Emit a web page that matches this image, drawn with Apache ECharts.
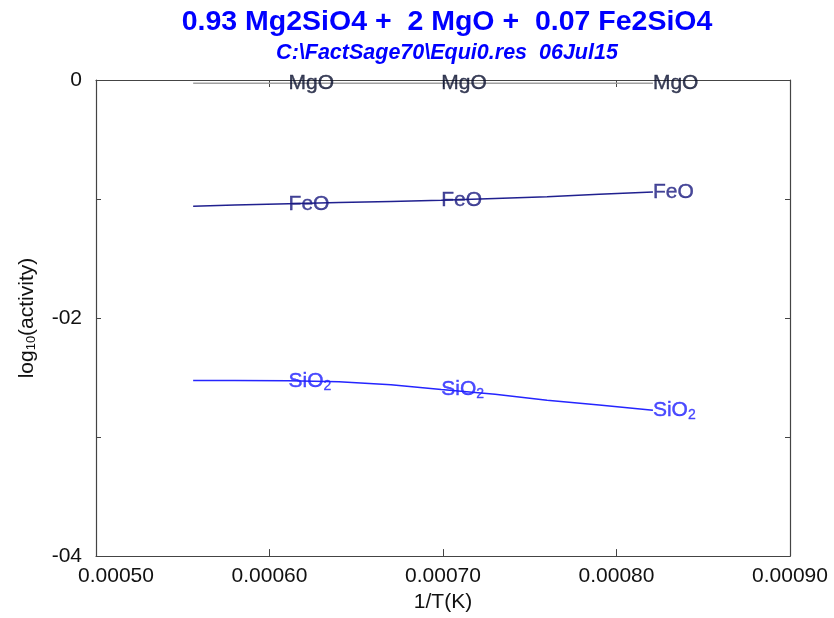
<!DOCTYPE html>
<html>
<head>
<meta charset="utf-8">
<script src="https://cdn.jsdelivr.net/npm/echarts@6/dist/echarts.min.js"></script>
<style>html,body{margin:0;padding:0;background:#fff}#c{width:834px;height:618px}</style>
</head>
<body>
<div id="c"></div>
<script>
// 1/T values (K^-1)
const invT = [0.000556, 0.000580, 0.000611, 0.000640, 0.000670, 0.000699, 0.000730, 0.000760, 0.000790, 0.000821];
const mgo  = [-0.027, -0.027, -0.027, -0.027, -0.027, -0.027, -0.027, -0.027, -0.027, -0.027];
const feo  = [-1.06, -1.05, -1.04, -1.03, -1.02, -1.01, -0.995, -0.98, -0.96, -0.94];
const sio2 = [-2.525, -2.525, -2.527, -2.535, -2.56, -2.60, -2.64, -2.69, -2.73, -2.775];
const labelIdx = [2, 5, 9];
const xTicks = [0.0005, 0.0006, 0.0007, 0.0008, 0.0009];
const yTicks = [0, -1, -2, -3, -4];
const yTickLabels = ['0', '', '-02', '', '-04'];
const titleText = '0.93 Mg2SiO4 +  2 MgO +  0.07 Fe2SiO4';
const subText = 'C:\\FactSage70\\Equi0.res  06Jul15';

const FONT = "'Liberation Sans', Arial, sans-serif";
const pairs = (ys) => invT.map((x, i) => [x, ys[i]]);
const lblPts = (ys) => labelIdx.map(i => [invT[i], ys[i]]);

function labelSeries(ys, text, color) {
  return {
    type: 'scatter', data: lblPts(ys), symbolSize: 0, silent: true, z: 5,
    label: {
      show: true, position: 'right', distance: 0,
      formatter: text,
      color: color, fontFamily: FONT, fontSize: 21,
      textBorderColor: color, textBorderWidth: 0.4,
      rich: {
        n: {color: color, fontFamily: FONT, fontSize: 21, textBorderColor: color, textBorderWidth: 0.4},
        s: {color: color, fontFamily: FONT, fontSize: 14, verticalAlign: 'bottom', padding: [10, 0, 0, 0],
            textBorderColor: color, textBorderWidth: 0.3}
      }
    }
  };
}

const chart = echarts.init(document.getElementById('c'), null, {renderer: 'canvas'});
const axisCol = '#444';
chart.setOption({
  animation: false,
  backgroundColor: '#fff',
  title: [
    {text: titleText, left: 442, top: 3, textAlign: 'center',
     textStyle: {color: '#0000ff', fontSize: 28.5, fontWeight: 'bold', fontFamily: FONT}},
    {text: subText, left: 442, top: 37, textAlign: 'center',
     textStyle: {color: '#0000ff', fontSize: 21.5, fontWeight: 'bold', fontStyle: 'italic', fontFamily: FONT}}
  ],
  grid: {left: 96, right: 44, top: 80, bottom: 58},
  xAxis: [
    {type: 'value', position: 'bottom', min: xTicks[0], max: xTicks[xTicks.length - 1], interval: 0.0001,
     name: '1/T(K)', nameLocation: 'middle', nameGap: 35,
     nameTextStyle: {color: '#111', fontSize: 21, fontFamily: FONT},
     axisLine: {onZero: false, lineStyle: {color: axisCol, width: 1.2}},
     axisTick: {inside: true, length: 7, lineStyle: {color: axisCol}},
     splitLine: {show: false},
     axisLabel: {margin: 10, color: '#111', fontSize: 21, fontFamily: FONT,
       formatter: (v) => {
         const s = v.toFixed(5);
         return Math.abs(v - xTicks[0]) < 1e-9 ? '{f|' + s + '}' : s;
       },
       rich: {f: {fontSize: 21, fontFamily: FONT, color: '#111', padding: [0, 0, 0, 40]}}
     }},
    {type: 'value', position: 'top', min: xTicks[0], max: xTicks[xTicks.length - 1], interval: 0.0001,
     axisLine: {onZero: false, lineStyle: {color: axisCol, width: 1.2}},
     axisTick: {inside: true, length: 7, lineStyle: {color: axisCol}},
     axisLabel: {show: false}, splitLine: {show: false}}
  ],
  yAxis: [
    {type: 'value', position: 'left', min: yTicks[yTicks.length - 1], max: yTicks[0], interval: 1,
     name: '{n|log}{s|10}{n|(activity)}', nameLocation: 'middle', nameGap: 58, nameRotate: 90,
     nameTextStyle: {color: '#111', fontSize: 21, fontFamily: FONT,
       rich: {n: {fontSize: 21, fontFamily: FONT, color: '#111'},
              s: {fontSize: 13, fontFamily: FONT, color: '#111', verticalAlign: 'bottom', padding: [8, 0, 0, 0]}}},
     axisLine: {show: true, onZero: false, lineStyle: {color: axisCol, width: 1.2}},
     axisTick: {show: true, inside: true, length: 5, lineStyle: {color: axisCol}},
     splitLine: {show: false},
     axisLabel: {margin: 14, color: '#111', fontSize: 21, fontFamily: FONT,
       formatter: (v) => { const i = yTicks.indexOf(Math.round(v)); return i >= 0 ? yTickLabels[i] : ''; }}},
    {type: 'value', position: 'right', min: yTicks[yTicks.length - 1], max: yTicks[0], interval: 1,
     axisLine: {show: true, onZero: false, lineStyle: {color: axisCol, width: 1.2}},
     axisTick: {show: true, inside: true, length: 5, lineStyle: {color: axisCol}},
     axisLabel: {show: false}, splitLine: {show: false}}
  ],
  series: [
    {type: 'line', data: pairs(mgo), symbol: 'none', lineStyle: {color: '#a0a0a0', width: 1.5}, z: 3},
    {type: 'line', data: pairs(feo), symbol: 'none', lineStyle: {color: '#20208f', width: 1.5}, z: 3},
    {type: 'line', data: pairs(sio2), symbol: 'none', lineStyle: {color: '#2525ff', width: 1.5}, z: 3},
    labelSeries(mgo, 'MgO', '#0a1030'),
    labelSeries(feo, 'FeO', '#1a1a80'),
    labelSeries(sio2, '{n|SiO}{s|2}', '#2020ff')
  ]
});
</script>
</body>
</html>
